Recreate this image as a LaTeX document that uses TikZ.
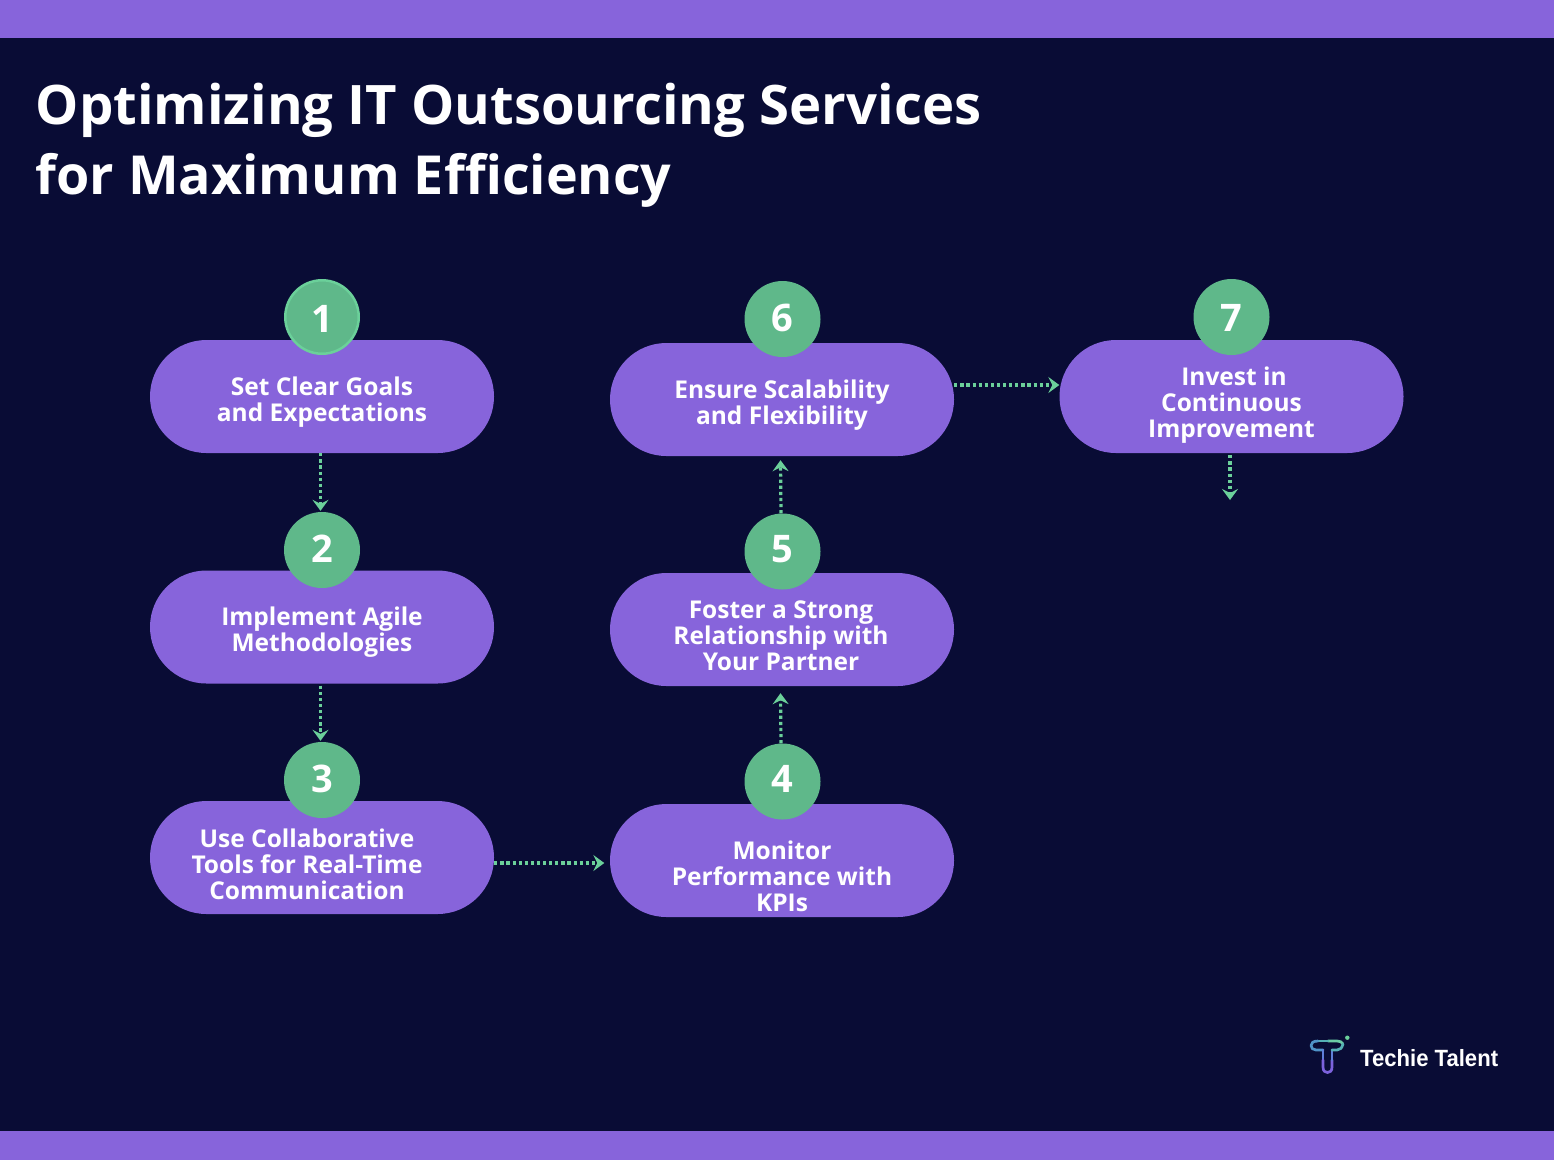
\documentclass[tikz,border=0pt]{standalone}
\usepackage{fontspec}
\setmainfont{Open Sans}
\newfontfamily\brandfont[FakeStretch=0.94]{Liberation Sans}
\usetikzlibrary{arrows.meta,calc}
\definecolor{navy}{HTML}{090C35}
\definecolor{violet}{HTML}{8764DB}
\definecolor{badge}{HTML}{5FB88A}
\definecolor{mint}{HTML}{6BD09A}
\definecolor{logoA}{HTML}{6BCBA5}
\definecolor{logoB}{HTML}{55B0B5}
\definecolor{logoC}{HTML}{4F93C8}
\definecolor{logoD}{HTML}{5F7FD8}
\definecolor{logoE}{HTML}{7C62DC}
\tikzset{
  x=1pt,y=-1pt,
  pill/.style={fill=violet,draw=none,rounded corners=56.4pt,minimum width=344pt,minimum height=113pt,inner sep=0pt},
  numdot/.style={circle,fill=badge,draw=none,minimum size=76pt,inner sep=0pt},
  numtext/.style={inner sep=0pt,text=white,font=\fontsize{38}{38}\selectfont\bfseries},
  lab/.style={align=center,text=white,inner sep=0pt,font=\fontsize{24.5}{26}\selectfont\bfseries},
  headline/.style={anchor=base west,inner sep=0pt,text=white},
  flow/.style={draw=mint,line width=3.2pt,dash pattern=on 3.2pt off 2.9pt,-{Stealth[length=11pt,width=16pt,inset=4pt]}},
  logoline/.style={line width=2.7pt,line cap=round,line join=round},
}
\begin{document}
\begin{tikzpicture}
\useasboundingbox (0,0) rectangle (1554,1160);
\fill[navy] (0,0) rectangle (1554,1160);
\fill[violet] (0,0) rectangle (1554,38);
\fill[violet] (0,1131) rectangle (1554,1160);

\node[headline,font=\fontsize{54.45}{70}\selectfont\bfseries] (title1) at (35.5,124) {Optimizing IT Outsourcing Services};
\node[headline,font=\fontsize{53.8}{70}\selectfont\bfseries] (title2) at (35.5,194) {for Maximum Efficiency};

\node[pill] (p1) at (322,396.5) {};
\node[pill] (p2) at (322,627) {};
\node[pill] (p3) at (322,857.5) {};
\node[pill] (p4) at (782,860.5) {};
\node[pill] (p5) at (782,629.5) {};
\node[pill] (p6) at (782,399.5) {};
\node[pill] (p7) at (1231.5,396.5) {};

\node[numdot,draw=mint,line width=2.5pt,minimum size=73.5pt] (n1) at (322,317) {};
\node[numdot] (n2) at (322,550) {};
\node[numdot] (n3) at (322,780) {};
\node[numdot] (n4) at (782.5,781.5) {};
\node[numdot] (n5) at (782.5,551.5) {};
\node[numdot] (n6) at (782.5,319) {};
\node[numdot] (n7) at (1231.5,317) {};

\node[numtext] (d1) at (322,318.5) {1};
\node[numtext] (d2) at (322,548.5) {2};
\node[numtext] (d3) at (322,778.5) {3};
\node[numtext] (d4) at (782.5,778.5) {4};
\node[numtext] (d5) at (782.5,549) {5};
\node[numtext] (d6) at (782.5,318) {6};
\node[numtext] (d7) at (1231.5,318) {7};

\node[lab] (t1) at (322,402.5) {Set Clear Goals\\and Expectations};
\node[lab] (t2) at (322,632) {Implement Agile\\Methodologies};
\node[lab] (t3) at (307,864.5) {Use Collaborative\\Tools for Real-Time\\Communication};
\node[lab] (t4) at (782,876.5) {Monitor\\Performance with\\KPIs};
\node[lab] (t5) at (781,635.5) {Foster a Strong\\Relationship with\\Your Partner};
\node[lab] (t6) at (782,405.5) {Ensure Scalability\\and Flexibility};
\node[lab] (t7) at (1231.5,405.5) {\hspace*{5pt}Invest in\\Continuous\\Improvement};

\coordinate (end7) at (1230,500);
\draw[flow] ($(p1.south)+(-1.5,0)$) -- ($(n2.north)+(-1.5,-1)$);
\draw[flow] ($(p2.south)+(-1.5,2)$) -- ($(n3.north)+(-1.5,-1)$);
\draw[flow,shorten >=5.5pt] (p3.east |- 0,863) -- (p4.west |- 0,863);
\draw[flow] ($(n4.north)+(-1.5,0)$) -- ($(p5.south)+(-1.5,7)$);
\draw[flow] ($(n5.north)+(-1.5,0)$) -- ($(p6.south)+(-1.5,4)$);
\draw[flow] (p6.east |- 0,385) -- (p7.west |- 0,385);
\draw[flow] ($(p7.south)+(-1.5,2)$) -- (end7);

% logo
\draw[logoline,draw=logoA] (1343,1044) .. controls (1342,1042) and (1340,1041) .. (1337,1041) -- (1328,1041);
\draw[logoline,draw=logoB] (1328,1041) -- (1318,1041);
\draw[logoline,draw=logoC] (1318,1041) .. controls (1313,1041) and (1311,1043) .. (1311,1045.5) .. controls (1311,1048) and (1313,1050) .. (1316,1050) -- (1323,1050);
\draw[logoline,draw=logoD] (1323,1050) -- (1323,1060);
\draw[logoline,draw=logoE] (1323,1060) -- (1323,1067) .. controls (1323,1071) and (1325,1072.5) .. (1327.5,1072.5) .. controls (1330,1072.5) and (1332,1071) .. (1332,1067) -- (1332,1060);
\draw[logoline,draw=logoD] (1332,1060) -- (1332,1050);
\draw[logoline,draw=logoB] (1332,1050) -- (1337,1050) .. controls (1340,1050) and (1342,1048) .. (1343,1044);
\fill[mint] (1347.3,1037.7) circle (2.2);
\node[anchor=base west,inner sep=0pt,text=white,font=\brandfont\fontsize{23.5}{24}\selectfont\bfseries] (brand) at (1360,1066) {Techie Talent};
\end{tikzpicture}
\end{document}
